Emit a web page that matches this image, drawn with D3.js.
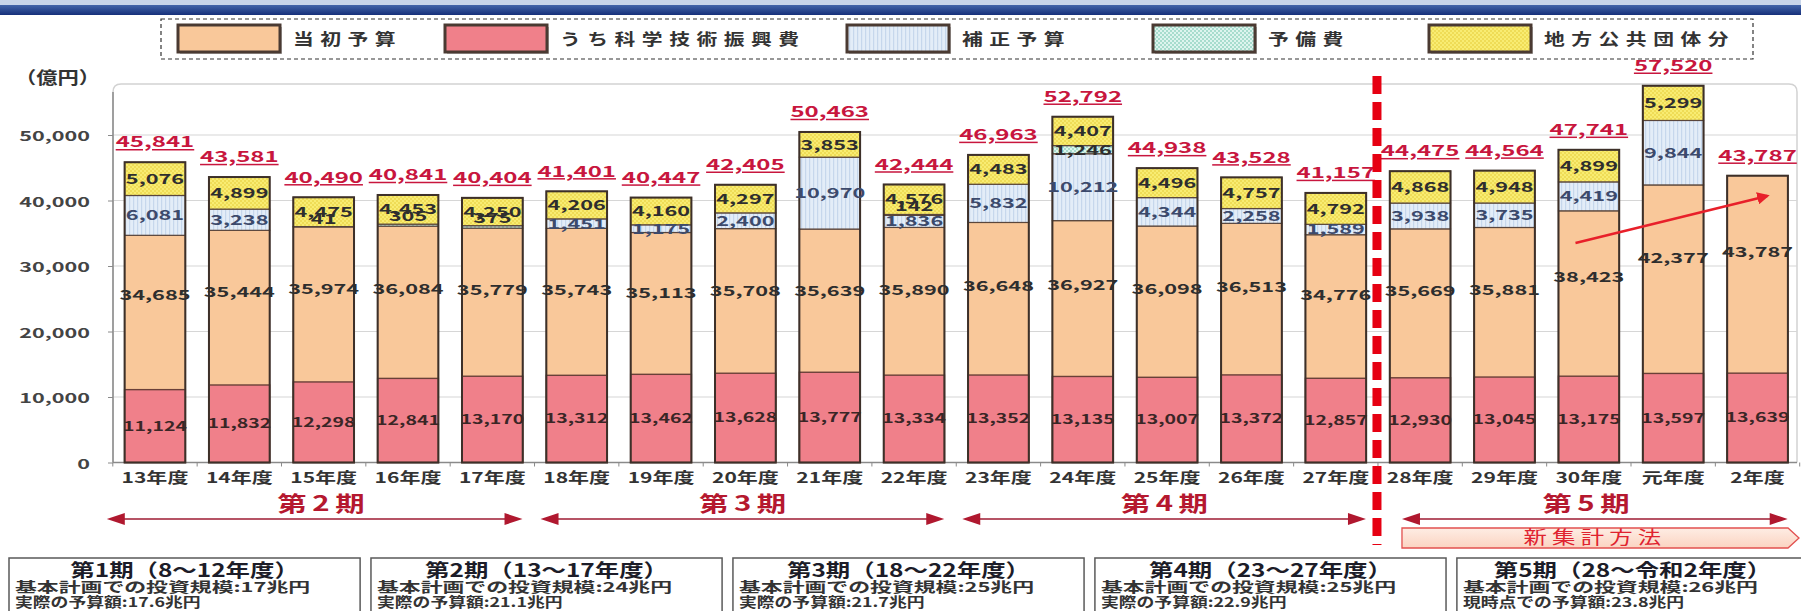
<!DOCTYPE html>
<html>
<head>
<meta charset="utf-8">
<script src="https://cdn.jsdelivr.net/npm/d3@7"></script>
<style>
  body { margin: 0; background: #fff; }
  svg { display: block; }
</style>
</head>
<body>
<div id="chart"></div>
<script>
// ---- data (億円) ----
const years = ["13年度", "14年度", "15年度", "16年度", "17年度", "18年度", "19年度", "20年度", "21年度", "22年度",
               "23年度", "24年度", "25年度", "26年度", "27年度", "28年度", "29年度", "30年度", "元年度", "2年度"];
const initialBudget = [34685, 35444, 35974, 36084, 35779, 35743, 35113, 35708, 35639, 35890,
                       36648, 36927, 36098, 36513, 34776, 35669, 35881, 38423, 42377, 43787];
const scienceBudget = [11124, 11832, 12298, 12841, 13170, 13312, 13462, 13628, 13777, 13334,
                       13352, 13135, 13007, 13372, 12857, 12930, 13045, 13175, 13597, 13639];
const supplementary = [6081, 3238, 0, 0, 0, 1451, 1175, 2400, 10970, 1836,
                       5832, 10212, 4344, 2258, 1589, 3938, 3735, 4419, 9844, 0];
const reserveFund   = [0, 0, 41, 305, 375, 0, 0, 0, 0, 142,
                       0, 1246, 0, 0, 0, 0, 0, 0, 0, 0];
const localGov      = [5076, 4899, 4475, 4453, 4250, 4206, 4160, 4297, 3853, 4576,
                       4483, 4407, 4496, 4757, 4792, 4868, 4948, 4899, 5299, 0];
const totals        = [45841, 43581, 40490, 40841, 40404, 41401, 40447, 42405, 50463, 42444,
                       46963, 52792, 44938, 43528, 41157, 44475, 44564, 47741, 57520, 43787];

const yTicks = [0, 10000, 20000, 30000, 40000, 50000];
const legendLabels = ["当初予算", "うち科学技術振興費", "補正予算", "予備費", "地方公共団体分"];

const periodNames = ["第2期", "第3期", "第4期", "第5期"];
const periodFirst = ["13年度", "18年度", "23年度", "28年度"];
const periodLast  = ["17年度", "22年度", "27年度", "2年度"];

const boxTitles = ["第1期（8～12年度）", "第2期（13～17年度）", "第3期（18～22年度）", "第4期（23～27年度）", "第5期（28～令和2年度）"];
const boxPlan   = ["基本計画での投資規模:17兆円", "基本計画での投資規模:24兆円", "基本計画での投資規模:25兆円",
                   "基本計画での投資規模:25兆円", "基本計画での投資規模:26兆円"];
const boxActual = ["実際の予算額:17.6兆円", "実際の予算額:21.1兆円", "実際の予算額:21.7兆円",
                   "実際の予算額:22.9兆円", "現時点での予算額:23.8兆円"];

// trend arrow (30年度 -> 2年度)
const trendFrom = { year: "30年度", value: 33500 };
const trendTo   = { year: "2年度",  value: 40700 };

// ---- drawing ----
const W = 1801, H = 611;
const FONT = "'Noto Sans CJK JP', 'Noto Sans', sans-serif";

const svg = d3.select("#chart").append("svg")
    .attr("width", W)
    .attr("height", H)
    .style("font-family", FONT);

svg.append("rect").attr("width", W).attr("height", H).attr("fill", "#fff");

const defs = svg.append("defs");

// patterns for the hatched series
function makePattern(id, bg, fg, kind) {
    const p = defs.append("pattern").attr("id", id)
        .attr("patternUnits", "userSpaceOnUse").attr("width", 4).attr("height", 4);
    p.append("rect").attr("width", 4).attr("height", 4).attr("fill", bg);
    if (kind === "stripe") {
        p.append("rect").attr("x", 1).attr("width", 1.2).attr("height", 4).attr("fill", fg);
    } else {
        p.append("rect").attr("width", 2).attr("height", 2).attr("fill", fg);
        p.append("rect").attr("x", 2).attr("y", 2).attr("width", 2).attr("height", 2).attr("fill", fg);
    }
}
makePattern("pat-supp", "#E3EDF8", "#C6D7EC", "stripe");
makePattern("pat-res", "#DDF4EE", "#A7DCCD", "check");
makePattern("pat-local", "#F8EC72", "#EFDC56", "check");

const colors = {
    initialBudget: "#F9C89A",
    science: "#F0808A",
    supplementary: "url(#pat-supp)",
    reserveFund: "url(#pat-res)",
    localGov: "url(#pat-local)"
};
const legendFills = [colors.initialBudget, colors.science, colors.supplementary, colors.reserveFund, colors.localGov];

// header band
const hg = defs.append("linearGradient").attr("id", "hdr").attr("x1", 0).attr("y1", 0).attr("x2", 0).attr("y2", 1);
hg.append("stop").attr("offset", "0%").attr("stop-color", "#4466aa");
hg.append("stop").attr("offset", "100%").attr("stop-color", "#16307a");
svg.append("rect").attr("width", W).attr("height", 5).attr("fill", "#c9d6ea");
svg.append("rect").attr("y", 5).attr("width", W).attr("height", 10).attr("fill", "url(#hdr)");

// stretched text helper (the source lettering is wide)
function stext(sel, x, y, str, o) {
    o = o || {};
    return sel.append("text")
        .attr("transform", `translate(${x},${y}) scale(${o.sx || 1.3},1)`)
        .attr("text-anchor", o.anchor || "middle")
        .attr("dy", o.dy || "0.35em")
        .style("font-size", (o.size || 14) + "px")
        .style("font-weight", o.weight || "bold")
        .style("letter-spacing", (o.ls || 0) + "px")
        .attr("fill", o.fill || "#333")
        .text(str);
}

// ---- legend ----
const legend = svg.append("g");
legend.append("rect")
    .attr("x", 161).attr("y", 19).attr("width", 1592).attr("height", 40)
    .attr("fill", "none").attr("stroke", "#333").attr("stroke-width", 1.2)
    .attr("stroke-dasharray", "4,3");
const legendPos = [178, 445, 847, 1153, 1429];
legendLabels.forEach((lab, i) => {
    const lx = legendPos[i];
    legend.append("rect")
        .attr("x", lx + 2).attr("y", 27).attr("width", 102).attr("height", 27)
        .attr("fill", "#bbb");
    legend.append("rect")
        .attr("x", lx).attr("y", 25).attr("width", 102).attr("height", 27)
        .attr("fill", legendFills[i]).attr("stroke", "#4a3a32").attr("stroke-width", 3);
    stext(legend, lx + 115, 39, lab, { anchor: "start", size: 16, sx: 1.3, ls: 5, fill: "#333" });
});

// unit label
stext(svg, 15, 78, "（億円）", { anchor: "start", size: 17, sx: 1.25, fill: "#333" });

// ---- scales ----
const x = d3.scaleBand().domain(years).range([112.8, 1799.7]).paddingInner(0.28).paddingOuter(0.14);
const y = d3.scaleLinear().domain([0, 60000]).range([462.5, 69.5]);
const step = x.step(), bw = x.bandwidth();
const bandLeft = yr => x(yr) - step * 0.14;
const bandRight = yr => x(yr) + bw + step * 0.14;

// plot frame and grid
const plotL = 113, plotR = 1797, plotT = 84;
svg.append("path")
    .attr("d", `M${plotL},${y(0)} V${plotT + 8} Q${plotL},${plotT} ${plotL + 8},${plotT} H${plotR - 8} Q${plotR},${plotT} ${plotR},${plotT + 8} V${y(0)}`)
    .attr("fill", "none").attr("stroke", "#d2d2d2").attr("stroke-width", 1.5);

svg.append("g").selectAll("line")
    .data(yTicks.filter(d => d > 0))
    .join("line")
    .attr("x1", plotL).attr("x2", plotR)
    .attr("y1", d => y(d)).attr("y2", d => y(d))
    .attr("stroke", "#d6d6d6").attr("stroke-width", 1.2);

// y axis
const yAxis = svg.append("g")
    .attr("transform", `translate(${plotL},0)`)
    .call(d3.axisLeft(y).tickValues(yTicks).tickFormat(d3.format(",")).tickSize(5));
yAxis.select(".domain").attr("stroke", "#8a8a8a").attr("stroke-width", 1.5)
    .attr("d", `M0,${plotT + 8} V${y(0)}`);
yAxis.selectAll(".tick line").attr("stroke", "#8a8a8a");
yAxis.selectAll(".tick text")
    .attr("x", null).attr("dy", "0.35em")
    .attr("transform", "translate(-23,1) scale(1.6,1)")
    .style("font-family", FONT).style("font-size", "13.5px").style("font-weight", "bold")
    .attr("fill", "#444");

// x axis
const xAxis = svg.append("g")
    .attr("transform", `translate(0,${y(0)})`)
    .call(d3.axisBottom(x).tickSize(0));
xAxis.select(".domain").attr("stroke", "#8a8a8a").attr("stroke-width", 1.5)
    .attr("d", `M${plotL},0 H${plotR}`);
xAxis.selectAll(".tick text")
    .attr("y", null).attr("dy", null)
    .attr("transform", "translate(0,20) scale(1.45,1)")
    .style("font-family", FONT).style("font-size", "14.5px").style("font-weight", "bold")
    .attr("fill", "#333");
svg.append("g").selectAll("line")
    .data(years.concat(["end"]))
    .join("line")
    .attr("x1", (d, i) => i < years.length ? bandLeft(d) : bandRight(years[years.length - 1]))
    .attr("x2", (d, i) => i < years.length ? bandLeft(d) : bandRight(years[years.length - 1]))
    .attr("y1", y(0)).attr("y2", y(0) + 4)
    .attr("stroke", "#8a8a8a");

// ---- bars ----
const rows = years.map((yr, i) => ({
    year: yr,
    initialBudget: initialBudget[i],
    supplementary: supplementary[i],
    reserveFund: reserveFund[i],
    localGov: localGov[i]
}));
const keys = ["initialBudget", "supplementary", "reserveFund", "localGov"];
const stacked = d3.stack().keys(keys)(rows);

const bars = svg.append("g");
stacked.forEach(layer => {
    bars.append("g").selectAll("rect")
        .data(layer.filter(d => d[1] > d[0]))
        .join("rect")
        .attr("x", d => x(d.data.year))
        .attr("width", bw)
        .attr("y", d => y(d[1]))
        .attr("height", d => y(d[0]) - y(d[1]))
        .attr("fill", colors[layer.key])
        .attr("stroke", "#5a463c").attr("stroke-width", 1.2);
});

// science share drawn inside the initial budget
bars.append("g").selectAll("rect")
    .data(years)
    .join("rect")
    .attr("x", d => x(d))
    .attr("width", bw)
    .attr("y", (d, i) => y(scienceBudget[i]))
    .attr("height", (d, i) => y(0) - y(scienceBudget[i]))
    .attr("fill", colors.science)
    .attr("stroke", "#6a4038").attr("stroke-width", 1.4);

// outline of whole bar
const stackTop = i => initialBudget[i] + supplementary[i] + reserveFund[i] + localGov[i];
bars.append("g").selectAll("rect")
    .data(years)
    .join("rect")
    .attr("x", d => x(d))
    .attr("width", bw)
    .attr("y", (d, i) => y(stackTop(i)))
    .attr("height", (d, i) => y(0) - y(stackTop(i)))
    .attr("fill", "none")
    .attr("stroke", "#3d3029").attr("stroke-width", 2);

// ---- labels ----
const labels = svg.append("g");
const fmt = d3.format(",");
years.forEach((yr, i) => {
    const cx = x(yr) + bw / 2;
    // total
    stext(labels, cx, y(stackTop(i)) - 20, fmt(totals[i]),
        { size: 15, sx: 1.6, fill: "#C8163E" })
        .style("text-decoration", "underline");
    // science (pink)
    stext(labels, cx, y(scienceBudget[i] / 2), fmt(scienceBudget[i]), { size: 13, sx: 1.5, fill: "#3a2626" });
    // initial
    stext(labels, cx, y(initialBudget[i] * 0.735), fmt(initialBudget[i]), { size: 14, sx: 1.55, fill: "#2e2e2e" });
});
stacked.slice(1).forEach(layer => {
    layer.forEach((d, i) => {
        const v = d[1] - d[0];
        if (v <= 0) return;
        const cx = x(d.data.year) + bw / 2;
        const h = y(d[0]) - y(d[1]);
        const cy = h > 6 ? (y(d[0]) + y(d[1])) / 2 : y(d[1]) - 8;
        const fill = layer.key === "supplementary" ? "#3c4a6c" : "#2e2e2e";
        stext(labels, cx, cy, fmt(v), { size: 14, sx: 1.55, fill: fill });
    });
});

// trend arrow
defs.append("marker").attr("id", "trendHead")
    .attr("viewBox", "0 0 10 10").attr("refX", 8).attr("refY", 5)
    .attr("markerWidth", 5).attr("markerHeight", 5).attr("orient", "auto")
    .append("path").attr("d", "M0,0 L10,5 L0,10 Z").attr("fill", "#E8202A");
svg.append("line")
    .attr("x1", x(trendFrom.year) + bw * 0.28).attr("y1", y(trendFrom.value))
    .attr("x2", x(trendTo.year) + bw * 0.66).attr("y2", y(trendTo.value))
    .attr("stroke", "#E8202A").attr("stroke-width", 2.5)
    .attr("marker-end", "url(#trendHead)");

// ---- period arrows ----
const arrowY = 519;
const divX = bandLeft("28年度");
const periods = svg.append("g");
periodNames.forEach((name, i) => {
    const b0 = bandLeft(periodFirst[i]), b1 = bandRight(periodLast[i]);
    const x1 = b0 + (Math.abs(b0 - divX) < 1 ? 24 : i === 0 ? -6 : 6);
    const x2 = Math.min(b1 - 12, W - 4);
    periods.append("line")
        .attr("x1", x1 + 10).attr("x2", x2 - 10)
        .attr("y1", arrowY).attr("y2", arrowY)
        .attr("stroke", "#9E1B32").attr("stroke-width", 1.5);
    periods.append("path")
        .attr("d", `M${x1},${arrowY} l18,-6 v12 Z M${x2},${arrowY} l-18,-6 v12 Z`)
        .attr("fill", "#B0182F");
    stext(periods, (b0 + b1) / 2, 504, name, { size: 21, sx: 1.4, ls: 4, fill: "#B5182F" });
});

// new method marker
const nmL = divX + 24, nmR = W - 13;
const ng = defs.append("linearGradient").attr("id", "nm").attr("x1", 0).attr("y1", 0).attr("x2", 0).attr("y2", 1);
ng.append("stop").attr("offset", "0%").attr("stop-color", "#FEEDE4");
ng.append("stop").attr("offset", "100%").attr("stop-color", "#FBD3C1");
svg.append("path")
    .attr("d", `M${nmL},528 H${nmR} L${W - 2},538 L${nmR},548 H${nmL} Z`)
    .attr("fill", "url(#nm)").attr("stroke", "#E2504F").attr("stroke-width", 1.3);
stext(svg, 1595, 538, "新集計方法", { size: 18, sx: 1.3, ls: 4, fill: "#E0222F", weight: "normal" });

// red dashed divider
svg.append("line")
    .attr("x1", divX - 1).attr("x2", divX - 1)
    .attr("y1", 76).attr("y2", 545)
    .attr("stroke", "#E60012").attr("stroke-width", 9)
    .attr("stroke-dasharray", "18,8");

// ---- bottom boxes ----
const bx = d3.scaleBand().domain(boxTitles).range([9, 1808]).paddingInner(0.03);
const boxes = svg.append("g");
boxTitles.forEach((t, i) => {
    const left = bx(t), w = bx.bandwidth();
    boxes.append("rect")
        .attr("x", left).attr("y", 558).attr("width", w).attr("height", 60)
        .attr("fill", "#fff").attr("stroke", "#5a5a5a").attr("stroke-width", 1.5);
    stext(boxes, left + w / 2, 571, t, { size: 18.5, sx: 1.32, fill: "#1c1c28" });
    stext(boxes, left + 6, 587.5, boxPlan[i], { anchor: "start", size: 13.5, sx: 1.62, fill: "#333" });
    stext(boxes, left + 6, 602.5, boxActual[i], { anchor: "start", size: 13.5, sx: 1.32, fill: "#333" });
});
</script>
</body>
</html>
